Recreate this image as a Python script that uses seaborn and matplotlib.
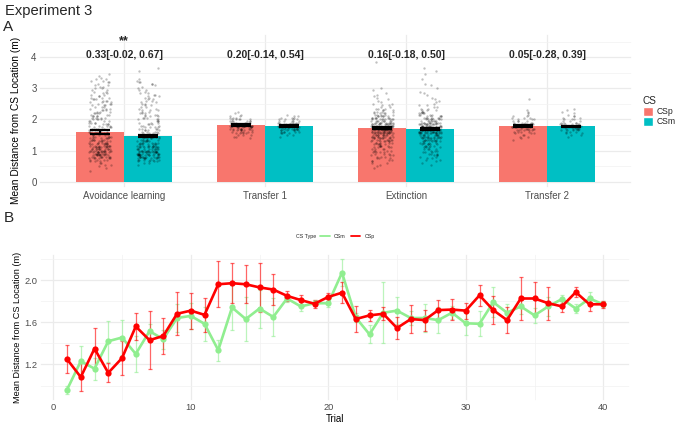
import numpy as np
import pandas as pd
import matplotlib
matplotlib.use('Agg')
import matplotlib.pyplot as plt
import seaborn as sns
from matplotlib.lines import Line2D
from matplotlib.patches import Patch
from matplotlib.ticker import MultipleLocator

np.random.seed(7)  # only used for the horizontal jitter of the points

# ---------------- Panel A: phase means ----------------
phases = ['Avoidance learning', 'Transfer 1', 'Extinction', 'Transfer 2']
cs_levels = ['CSp', 'CSm']
bar_csp = [1.60, 1.82, 1.73, 1.79]
bar_csm = [1.47, 1.79, 1.70, 1.78]
se_csp = [0.055, 0.03, 0.03, 0.03]
se_csm = [0.045, 0.03, 0.03, 0.025]
effect_labels = ['0.33[-0.02, 0.67]', '0.20[-0.14, 0.54]',
                 '0.16[-0.18, 0.50]', '0.05[-0.28, 0.39]']
signif_labels = ['**', '', '', '']

# individual distances, as counts per 0.05 m bin: (first bin, counts)
BIN = 0.05
avoid_csp = (0.35, [1, 0, 1, 1, 2, 2, 3, 4, 6, 8, 8, 10, 10, 11, 11, 9, 9, 7, 7, 6,
                    6, 6, 5, 5, 5, 5, 4, 4, 4, 4, 4, 4, 4, 4, 4, 4, 3, 4, 3, 3,
                    3, 3, 3, 3, 3, 3, 3, 3, 2, 2, 2, 2, 2, 2, 2, 2, 1, 2, 2, 2,
                    1, 1, 1])
avoid_csm = (0.55, [1, 2, 4, 6, 8, 10, 11, 12, 12, 11, 10, 9, 8, 7, 6, 6, 5, 5, 5, 4,
                    4, 4, 4, 4, 4, 3, 3, 3, 3, 3, 3, 3, 3, 3, 2, 3, 2, 2, 2, 2,
                    2, 2, 2, 2, 2, 2, 2, 1, 2, 1, 1, 1, 2, 2, 1, 1, 0, 0, 0, 0,
                    1, 0, 1])
trans1_csp = (1.40, [1, 2, 3, 4, 5, 6, 8, 9, 10, 9, 7, 6, 5, 3, 2, 1, 1, 1])
trans1_csm = (1.45, [1, 2, 3, 5, 6, 8, 9, 9, 8, 6, 5, 4, 3, 2, 1])
ext_csp = (0.45, [1, 1, 1, 2, 2, 2, 3, 3, 3, 3, 4, 4, 4, 4, 5, 5, 5, 6, 7, 8,
                  9, 11, 12, 13, 14, 14, 13, 12, 11, 10, 9, 8, 7, 6, 5, 4, 4, 3, 3, 2,
                  2, 2, 1, 1, 1, 1, 1, 1, 1, 0, 1, 1, 0, 0, 0, 0, 0, 0, 0, 0,
                  0, 0, 0, 0, 0, 0, 0, 0, 1])
ext_csm = (0.55, [1, 1, 1, 2, 2, 2, 3, 3, 3, 3, 4, 4, 4, 5, 5, 6, 7, 8, 9, 10,
                  12, 13, 14, 14, 13, 12, 11, 10, 8, 7, 6, 5, 4, 4, 3, 3, 2, 2, 2, 1,
                  1, 1, 1, 1, 0, 1, 1, 1, 0, 1, 0, 1, 1, 0, 0, 1, 0, 0, 1, 0,
                  1, 0, 1])
trans2_csp = (1.35, [1, 1, 2, 2, 3, 4, 5, 6, 7, 7, 6, 5, 4, 3, 3, 2, 1, 1, 1, 1,
                     0, 0, 0, 0, 0, 0, 1])
trans2_csm = (1.45, [1, 2, 2, 3, 4, 6, 7, 7, 6, 4, 3, 3, 2, 2, 1, 1, 1, 1, 1])

point_groups = {
    ('Avoidance learning', 'CSp'): avoid_csp, ('Avoidance learning', 'CSm'): avoid_csm,
    ('Transfer 1', 'CSp'): trans1_csp, ('Transfer 1', 'CSm'): trans1_csm,
    ('Extinction', 'CSp'): ext_csp, ('Extinction', 'CSm'): ext_csm,
    ('Transfer 2', 'CSp'): trans2_csp, ('Transfer 2', 'CSm'): trans2_csm,
}

# ---------------- Panel B: trial means ----------------
trials = list(range(1, 41))
csp_mean = [1.25, 1.08, 1.35, 1.12, 1.26, 1.56, 1.43, 1.47, 1.68, 1.71,
            1.67, 1.96, 1.97, 1.96, 1.93, 1.91, 1.85, 1.81, 1.775, 1.84,
            1.88, 1.63, 1.665, 1.68, 1.545, 1.63, 1.62, 1.715, 1.72, 1.71,
            1.855, 1.715, 1.62, 1.825, 1.825, 1.78, 1.75, 1.885, 1.77, 1.77]
csp_se = [0.135, 0.13, 0.20, 0.09, 0.165, 0.13, 0.275, 0.17, 0.205, 0.17,
          0.16, 0.22, 0.19, 0.18, 0.23, 0.145, 0.05, 0.045, 0.04, 0.04,
          0.10, 0.125, 0.05, 0.06, 0.10, 0.13, 0.10, 0.095, 0.10, 0.075,
          0.10, 0.135, 0.125, 0.20, 0.155, 0.155, 0.055, 0.05, 0.065, 0.035]
csm_mean = [0.96, 1.23, 1.16, 1.42, 1.455, 1.30, 1.515, 1.44, 1.64, 1.66,
            1.585, 1.335, 1.74, 1.63, 1.73, 1.65, 1.825, 1.75, 1.78, 1.78,
            2.07, 1.645, 1.485, 1.69, 1.71, 1.64, 1.64, 1.62, 1.69, 1.59,
            1.585, 1.79, 1.69, 1.75, 1.665, 1.75, 1.82, 1.73, 1.825, 1.77]
csm_se = [0.04, 0.145, 0.105, 0.195, 0.165, 0.17, 0.07, 0.09, 0.13, 0.12,
          0.16, 0.10, 0.21, 0.21, 0.18, 0.18, 0.035, 0.045, 0.03, 0.04,
          0.13, 0.04, 0.085, 0.29, 0.125, 0.07, 0.13, 0.12, 0.06, 0.11,
          0.12, 0.14, 0.08, 0.07, 0.07, 0.09, 0.035, 0.04, 0.065, 0.03]

# ---------------- style ----------------
sns.set_theme(style='whitegrid')
plt.rcParams['font.family'] = ['Liberation Sans', 'DejaVu Sans']
plt.rcParams.update({
    'axes.edgecolor': 'white', 'grid.color': '#ebebeb', 'grid.linewidth': 0.9,
    'xtick.color': '#4d4d4d', 'ytick.color': '#4d4d4d',
    'axes.labelcolor': 'black',
})
bar_colors = {'CSp': '#F8766D', 'CSm': '#00BFC4'}
line_colors = {'CSm': '#90EE90', 'CSp': '#FF0000'}
offset = {'CSp': -0.17, 'CSm': 0.17}

fig = plt.figure(figsize=(6.78, 4.25), dpi=100)
ax1 = fig.add_axes([0.0581, 0.5565, 0.8738, 0.3635])
ax2 = fig.add_axes([0.0593, 0.0574, 0.870, 0.344])

# ---- Panel A ----
df_bars = pd.DataFrame({
    'phase': phases * 2,
    'cs': ['CSp'] * 4 + ['CSm'] * 4,
    'mean': bar_csp + bar_csm,
    'se': se_csp + se_csm,
})
df_bars['x'] = [phases.index(p) + offset[c] for p, c in zip(df_bars.phase, df_bars.cs)]

rows = []
for (ph, cs), (start, counts) in point_groups.items():
    vals = np.repeat(start + BIN * np.arange(len(counts)), counts)
    for v in vals:
        rows.append((phases.index(ph) + offset[cs], v))
df_pts = pd.DataFrame(rows, columns=['x', 'dist'])

sns.barplot(data=df_bars, x='x', y='mean', hue='cs', hue_order=cs_levels,
            palette=bar_colors, native_scale=True, width=1.0, dodge=False,
            errorbar=None, saturation=1, linewidth=0, legend=False, ax=ax1, zorder=2)
sns.stripplot(data=df_pts, x='x', y='dist', native_scale=True, orient='x',
              jitter=0.235, color='black', alpha=0.25, size=1.7, linewidth=0,
              ax=ax1, zorder=3)
ax1.errorbar(df_bars['x'], df_bars['mean'], yerr=df_bars['se'], fmt='none',
             ecolor='black', elinewidth=1.6, capsize=7, capthick=1.6, zorder=4)

for i, (lab, sig) in enumerate(zip(effect_labels, signif_labels)):
    ax1.text(i, 4.08, lab, ha='center', va='center', fontsize=7.5, fontweight='bold')
    if sig:
        ax1.text(i, 4.34, sig, ha='center', va='bottom', fontsize=9, fontweight='bold')

ax1.set_xlim(-0.6, 3.6)
ax1.set_ylim(-0.22, 4.75)
ax1.set_xticks(range(len(phases)))
ax1.set_xticklabels(phases)
ax1.set_yticks([0, 1, 2, 3, 4])
ax1.yaxis.set_minor_locator(MultipleLocator(0.5))
ax1.grid(which='minor', axis='y', color='#f2f2f2', linewidth=0.5)
ax1.set_axisbelow(True)
ax1.set_xlabel('')
ax1.set_ylabel('Mean Distance from CS Location (m)', fontsize=7.3)
ax1.yaxis.set_label_coords(-0.031, 0.44)
ax1.tick_params(length=0, labelsize=7, pad=2)

leg1 = ax1.legend(handles=[Patch(facecolor=bar_colors[c], label=c) for c in cs_levels],
                  title='CS', loc='center left', bbox_to_anchor=(1.005, 0.5),
                  frameon=False, fontsize=6.2, title_fontsize=7.2,
                  handlelength=1.2, handleheight=1.2, handletextpad=0.4,
                  labelspacing=0.1, alignment='left')

# ---- Panel B ----
df_trials = pd.DataFrame({
    'Trial': trials * 2,
    'cs': ['CSm'] * 40 + ['CSp'] * 40,
    'mean': csm_mean + csp_mean,
    'se': csm_se + csp_se,
})
for cs in ['CSm', 'CSp']:
    sub = df_trials[df_trials.cs == cs]
    ax2.errorbar(sub['Trial'], sub['mean'], yerr=sub['se'], fmt='none',
                 ecolor=line_colors[cs], alpha=0.6, elinewidth=0.9,
                 capsize=1.5, capthick=0.9, zorder=2)
    sns.lineplot(data=sub, x='Trial', y='mean', color=line_colors[cs],
                 marker='o', markersize=4.5, markeredgewidth=0, linewidth=1.9,
                 ax=ax2, zorder=3)

ax2.set_xlim(-0.95, 41.95)
ax2.set_ylim(0.857, 2.243)
ax2.set_xticks([0, 10, 20, 30, 40])
ax2.xaxis.set_minor_locator(MultipleLocator(5))
ax2.set_yticks([1.2, 1.6, 2.0])
ax2.set_yticks([1.0, 1.4, 1.8, 2.2], minor=True)
ax2.grid(which='minor', color='#f2f2f2', linewidth=0.5)
ax2.set_axisbelow(True)
ax2.set_xlabel('Trial', fontsize=7, labelpad=1)
ax2.set_ylabel('Mean Distance from CS Location (m)', fontsize=6.6)
ax2.yaxis.set_label_coords(-0.031, 0.5)
ax2.tick_params(length=0, labelsize=6.7, pad=2)

fig.text(296 / 678, 0.443, 'CS Type', fontsize=3.8, va='center', ha='left')
fig.legend(handles=[Line2D([], [], color=line_colors[c], lw=1.3, label=c) for c in ['CSm', 'CSp']],
           loc='center left', bbox_to_anchor=(320 / 678, 0.443), ncol=2, frameon=False,
           fontsize=3.8, handlelength=1.8, handletextpad=0.8, columnspacing=1.0,
           borderpad=0, borderaxespad=0)

# ---- titles ----
fig.text(0.008, 0.975, 'Experiment 3', fontsize=10.6, va='center', ha='left')
fig.text(0.005, 0.937, 'A', fontsize=11, va='center', ha='left')
fig.text(0.005, 0.487, 'B', fontsize=11, va='center', ha='left')

fig.savefig('out.png', dpi=100)
